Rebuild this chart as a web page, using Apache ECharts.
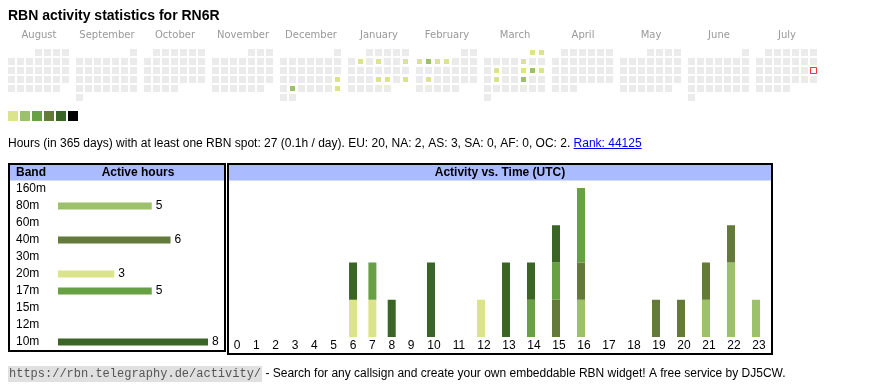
<!DOCTYPE html>
<html><head><meta charset="utf-8">
<script src="https://cdn.jsdelivr.net/npm/echarts@6/dist/echarts.min.js"></script>
<style>html,body{margin:0;padding:0;background:#fff}#c{width:870px;height:390px}</style>
</head><body><div id="c"></div>
<script>
// ---------- data ----------
const titleText = 'RBN activity statistics for RN6R';
const monthNames = ['August','September','October','November','December','January','February','March','April','May','June','July'];
const monthKeys = ['2024-08','2024-09','2024-10','2024-11','2024-12','2025-01','2025-02','2025-03','2025-04','2025-05','2025-06','2025-07'];
const activeDays = ['2024-12-22','2024-12-24','2024-12-29',
  '2025-01-07','2025-01-09','2025-01-12','2025-01-23','2025-01-24','2025-01-26',
  '2025-02-03','2025-02-04','2025-02-05','2025-02-06','2025-02-18',
  '2025-03-01','2025-03-02','2025-03-07','2025-03-11','2025-03-14','2025-03-15','2025-03-16','2025-03-18','2025-03-21'];
const activeDayHours = [1,2,1, 1,1,1,1,1,1, 1,2,1,1,1, 1,1,1,1,1,2,1,1,2];
const todayDate = '2025-07-20';
const levelMin = [1,2,3,5,9,17];
const levelMax = [1,2,4,8,16,null];

const bands = ['160m','80m','60m','40m','30m','20m','17m','15m','12m','10m'];
const bandHours = [0,5,0,6,0,3,5,0,0,8];
const hourLabels = ['0','1','2','3','4','5','6','7','8','9','10','11','12','13','14','15','16','17','18','19','20','21','22','23'];
//                 0 1 2 3 4 5 6 7 8 9 10 11 12 13 14 15 16 17 18 19 20 21 22 23
const act160m =   [0,0,0,0,0,0,0,0,0,0, 0, 0, 0, 0, 0, 0, 0, 0, 0, 0, 0, 0, 0, 0];
const act80m  =   [0,0,0,0,0,0,0,0,0,0, 0, 0, 0, 0, 0, 0, 1, 0, 0, 0, 0, 1, 2, 1];
const act60m  =   [0,0,0,0,0,0,0,0,0,0, 0, 0, 0, 0, 0, 0, 0, 0, 0, 0, 0, 0, 0, 0];
const act40m  =   [0,0,0,0,0,0,0,0,0,0, 0, 0, 0, 0, 0, 1, 1, 0, 0, 1, 1, 1, 1, 0];
const act30m  =   [0,0,0,0,0,0,0,0,0,0, 0, 0, 0, 0, 0, 0, 0, 0, 0, 0, 0, 0, 0, 0];
const act20m  =   [0,0,0,0,0,0,1,1,0,0, 0, 0, 1, 0, 0, 0, 0, 0, 0, 0, 0, 0, 0, 0];
const act17m  =   [0,0,0,0,0,0,0,1,0,0, 0, 0, 0, 0, 1, 1, 2, 0, 0, 0, 0, 0, 0, 0];
const act15m  =   [0,0,0,0,0,0,0,0,0,0, 0, 0, 0, 0, 0, 0, 0, 0, 0, 0, 0, 0, 0, 0];
const act12m  =   [0,0,0,0,0,0,0,0,0,0, 0, 0, 0, 0, 0, 0, 0, 0, 0, 0, 0, 0, 0, 0];
const act10m  =   [0,0,0,0,0,0,1,0,1,0, 2, 0, 0, 2, 1, 1, 0, 0, 0, 0, 0, 0, 0, 0];
const bandActivity = [act160m, act80m, act60m, act40m, act30m, act20m, act17m, act15m, act12m, act10m];

const summaryText = 'Hours (in 365 days) with at least one RBN spot: 27 (0.1h / day). EU: 20, NA: 2, AS: 3, SA: 0, AF: 0, OC: 2. ';
const rankText = 'Rank: 44125';
const urlText = 'https://rbn.telegraphy.de/activity/';
const footerText = ' - Search for any callsign and create your own embeddable RBN widget! A free service by DJ5CW.';

// ---------- styles ----------
const levelColors = ['#dbe38b','#9dc06a','#68a044','#637a3a','#3b6527','#000000'];
const bandColors = {'160m':'#c9c9c9','80m':'#9dc06a','60m':'#bbbbbb','40m':'#637a3a','30m':'#aaaaaa',
  '20m':'#dbe38b','17m':'#68a044','15m':'#999999','12m':'#888888','10m':'#3b6527'};
const SANS = '"Liberation Sans", Arial, sans-serif';

function textWidth(str, font) {
  const ctx = document.createElement('canvas').getContext('2d');
  ctx.font = font; return ctx.measureText(str).width;
}

const chart = echarts.init(document.getElementById('c'), null, {renderer:'canvas'});

const calendars = monthKeys.map((m, k) => ({
  orient: 'vertical', range: m, left: 7 + 68 * k, top: 48, cellSize: [9, 9],
  splitLine: {show: false}, dayLabel: {show: false, firstDay: 1},
  monthLabel: {show: false}, yearLabel: {show: false},
  itemStyle: {color: '#ebebeb', borderColor: '#ffffff', borderWidth: 2}
}));

const series = [];
monthKeys.forEach((m, k) => {
  series.push({
    type: 'heatmap', coordinateSystem: 'calendar', calendarIndex: k, silent: true,
    data: activeDays.map((d, i) => [d, activeDayHours[i]]).filter(p => p[0].startsWith(m)),
    itemStyle: {borderColor: '#ffffff', borderWidth: 2}, emphasis: {disabled: true}
  });
});
const heatIdx = monthKeys.map((m, k) => k);
series.push({
  type: 'scatter', coordinateSystem: 'calendar', calendarIndex: monthKeys.indexOf(todayDate.slice(0, 7)),
  data: [[todayDate, 1]], symbol: 'rect', symbolSize: 6, silent: true, z: 5,
  itemStyle: {color: '#ffffff', borderColor: '#ff0000', borderWidth: 1}
});
series.push({
  type: 'bar', xAxisIndex: 0, yAxisIndex: 0, data: bandHours, barWidth: 7, silent: true,
  itemStyle: {color: p => bandColors[bands[p.dataIndex]]},
  label: {show: true, position: 'right', distance: 4, fontSize: 12, fontFamily: SANS, color: '#000',
    formatter: p => (p.value > 0 ? String(p.value) : '')}
});
bands.forEach((b, i) => {
  const arr = bandActivity[i];
  series.push({type: 'bar', xAxisIndex: 1, yAxisIndex: 1, stack: 'a', data: arr.slice(0, 10),
    barWidth: 8, silent: true, itemStyle: {color: bandColors[b]}});
  series.push({type: 'bar', xAxisIndex: 2, yAxisIndex: 2, stack: 'b', data: arr.slice(10),
    barWidth: 8, silent: true, itemStyle: {color: bandColors[b]}});
});

const hourAxisLabel = {fontSize: 12, fontFamily: SANS, color: '#000', margin: 3};

const summaryFont = '12px "Liberation Sans"';
const sumW = textWidth(summaryText, summaryFont);
const rankW = textWidth(rankText, summaryFont);
const urlFont = '12px "Liberation Mono"';
const urlW = textWidth(urlText, urlFont);

const graphics = [];
graphics.push({type: 'text', x: 8, y: 16, style: {text: titleText, font: 'bold 14px ' + SANS, fill: '#000', textVerticalAlign: 'middle'}});
monthNames.forEach((n, k) => {
  graphics.push({type: 'text', x: 39 + 68 * k, y: 35, style: {text: n, font: '10px "DejaVu Sans"', fill: '#999999', textAlign: 'center', textVerticalAlign: 'middle'}});
});
graphics.push({type: 'text', x: 8, y: 143.5, style: {
  text: '{a|' + summaryText + '}{b|' + rankText + '}', textVerticalAlign: 'middle',
  rich: {a: {font: '12px ' + SANS, fill: '#000'}, b: {font: '12px ' + SANS, fill: '#0000ee'}}}});
graphics.push({type: 'line', shape: {x1: 8 + sumW, y1: 148.5, x2: 8 + sumW + rankW, y2: 148.5}, style: {stroke: '#0000ee', lineWidth: 1}});
// tables
graphics.push({type: 'rect', shape: {x: 10, y: 165, width: 214, height: 15.5}, style: {fill: '#aabbff'}});
graphics.push({type: 'rect', shape: {x: 229, y: 165, width: 542, height: 15.5}, style: {fill: '#aabbff'}});
graphics.push({type: 'rect', shape: {x: 9, y: 164, width: 216, height: 187}, style: {fill: null, stroke: '#000', lineWidth: 2}});
graphics.push({type: 'rect', shape: {x: 228, y: 164, width: 544, height: 190}, style: {fill: null, stroke: '#000', lineWidth: 2}});
graphics.push({type: 'text', x: 16, y: 173, style: {text: 'Band', font: 'bold 12px ' + SANS, fill: '#000', textVerticalAlign: 'middle'}});
graphics.push({type: 'text', x: 138, y: 173, style: {text: 'Active hours', font: 'bold 12px ' + SANS, fill: '#000', textAlign: 'center', textVerticalAlign: 'middle'}});
graphics.push({type: 'text', x: 500, y: 173, style: {text: 'Activity vs. Time (UTC)', font: 'bold 12px ' + SANS, fill: '#000', textAlign: 'center', textVerticalAlign: 'middle'}});
// footer
graphics.push({type: 'text', x: 8, y: 374, style: {text: urlText, font: urlFont, fill: '#555555', backgroundColor: '#e0e0e0', padding: [2, 1, 2, 1], textVerticalAlign: 'middle'}});
graphics.push({type: 'text', x: 10 + urlW, y: 374, style: {text: footerText, font: '12px ' + SANS, fill: '#000', textVerticalAlign: 'middle'}});

chart.setOption({
  animation: false,
  backgroundColor: '#ffffff',
  calendar: calendars,
  visualMap: {
    type: 'piecewise', seriesIndex: heatIdx, orient: 'horizontal', left: 8, top: 111,
    itemWidth: 10, itemHeight: 10, itemGap: 2, padding: 0, showLabel: false, itemSymbol: 'rect',
    selectedMode: false, hoverLink: false,
    pieces: levelColors.map((c, i) => (levelMax[i] === null ? {min: levelMin[i], color: c} : {min: levelMin[i], max: levelMax[i], color: c}))
  },
  grid: [
    {left: 58, top: 180.5, width: 150, height: 170},
    {left: 227.33, top: 188, width: 193.4, height: 149},
    {left: 418.5, top: 188, width: 350, height: 149}
  ],
  xAxis: [
    {type: 'value', gridIndex: 0, min: 0, max: 8, show: false},
    {type: 'category', gridIndex: 1, data: hourLabels.slice(0, 10), axisLine: {show: false}, axisTick: {show: false}, axisLabel: hourAxisLabel},
    {type: 'category', gridIndex: 2, data: hourLabels.slice(10), axisLine: {show: false}, axisTick: {show: false}, axisLabel: Object.assign({}, hourAxisLabel, {padding: [0, 0, 0, 6]})}
  ],
  yAxis: [
    {type: 'category', gridIndex: 0, data: bands, inverse: true, axisLine: {show: false}, axisTick: {show: false},
      axisLabel: {align: 'left', margin: 42, fontSize: 12, fontFamily: SANS, color: '#000'}},
    {type: 'value', gridIndex: 1, min: 0, max: 4, show: false},
    {type: 'value', gridIndex: 2, min: 0, max: 4, show: false}
  ],
  graphic: graphics,
  series: series
});
</script>
</body></html>
